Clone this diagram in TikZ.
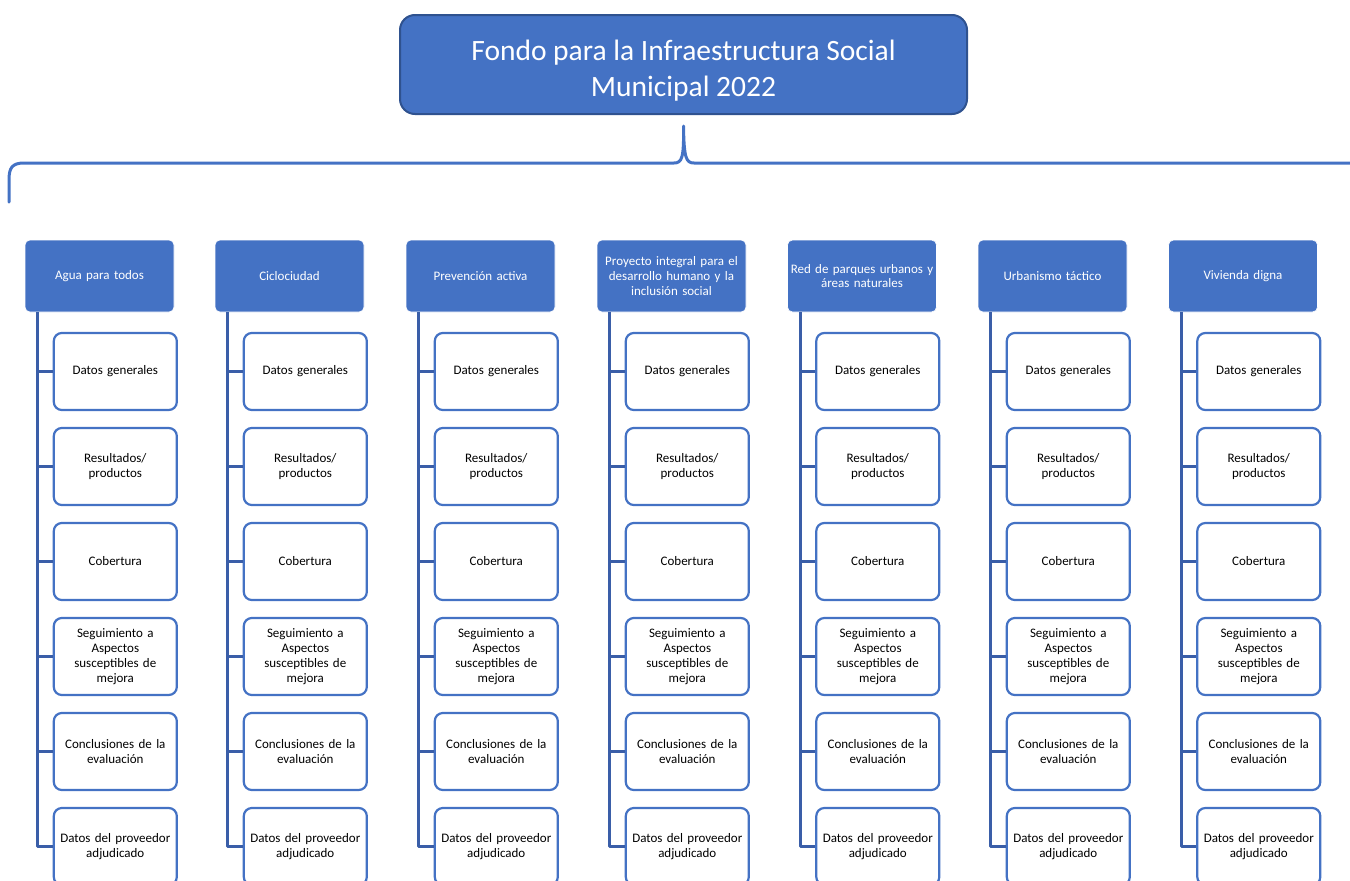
\documentclass[tikz,border=0pt]{standalone}
\usepackage{fontspec}
\setmainfont{Carlito}
\usepackage{tikz}
\usetikzlibrary{positioning}
\definecolor{azul}{HTML}{4472C4}
\definecolor{azuloscuro}{HTML}{2F528F}
\definecolor{liga}{HTML}{3A5EA8}
\tikzset{
  titulo/.style={draw=azuloscuro,line width=2pt,fill=azul,rounded corners=15pt,
    minimum width=567pt,minimum height=99pt,text=white,align=center,
    font=\fontsize{29.5}{36}\selectfont},
  programa/.style={draw=white,line width=0.6pt,fill=azul,rounded corners=5pt,
    minimum width=149pt,minimum height=72pt,text width=143pt,text=white,align=center,
    inner sep=0pt,font=\fontsize{13}{14.8}\selectfont},
  rubro/.style={draw=azul,line width=2.2pt,fill=white,rounded corners=8pt,
    minimum width=123pt,minimum height=77pt,text width=117pt,align=center,
    inner sep=0pt,font=\fontsize{13}{14.8}\selectfont},
  liga/.style={draw=liga,line width=2.6pt},
  llave/.style={draw=azul,line width=3pt,line cap=round}
}
\begin{document}
\begin{tikzpicture}[line join=round,x=1pt,y=-1pt]
\useasboundingbox (0,0) rectangle (1350,881);
\node[titulo] (fondo) at (683.5,64.5) {\raisebox{-12pt}[0pt][0pt]{\parbox{560pt}{\centering Fondo para la Infraestructura Social\\Municipal 2022}}};
\coordinate (punta) at ([yshift=-11pt]fondo.south);
\draw[llave] (9,202) -- (9,180) .. controls (9,168) and (12,163) .. (24,163) -- (674,163)
  .. controls (682,163) and (684,158) .. (punta) .. controls (684,158) and (686,163) .. (694,163) -- (1356,163);
% programas
\foreach \n/\x/\t in {1/99.5/Agua para todos,2/289.5/Ciclociudad,3/480.5/Prevención activa,
  4/671.5/{Proyecto integral para el\\desarrollo humano y la\\inclusión social},
  5/862/{Red de parques urbanos y\\áreas naturales},6/1052.5/Urbanismo táctico,7/1243/Vivienda digna}{
  \node[programa] (p\n) at (\x,276) {\t};
  \coordinate (tronco\n) at ([xshift=13pt]p\n.south west);
  \foreach \k/\y/\r in {1/371.5/Datos generales,2/466.5/{Resultados/\\productos},3/561.5/Cobertura,
    4/656.5/{Seguimiento a\\Aspectos\\susceptibles de\\mejora},5/751.5/{Conclusiones de la\\evaluación},
    6/846.5/{Datos del proveedor\\adjudicado}}{
    \node[rubro,anchor=west] (r\n\k) at ([xshift=28pt]p\n.west |- 0,\y) {\r};
    \draw[liga] (tronco\n) |- (r\n\k.west);
  }
}
\end{tikzpicture}
\end{document}
